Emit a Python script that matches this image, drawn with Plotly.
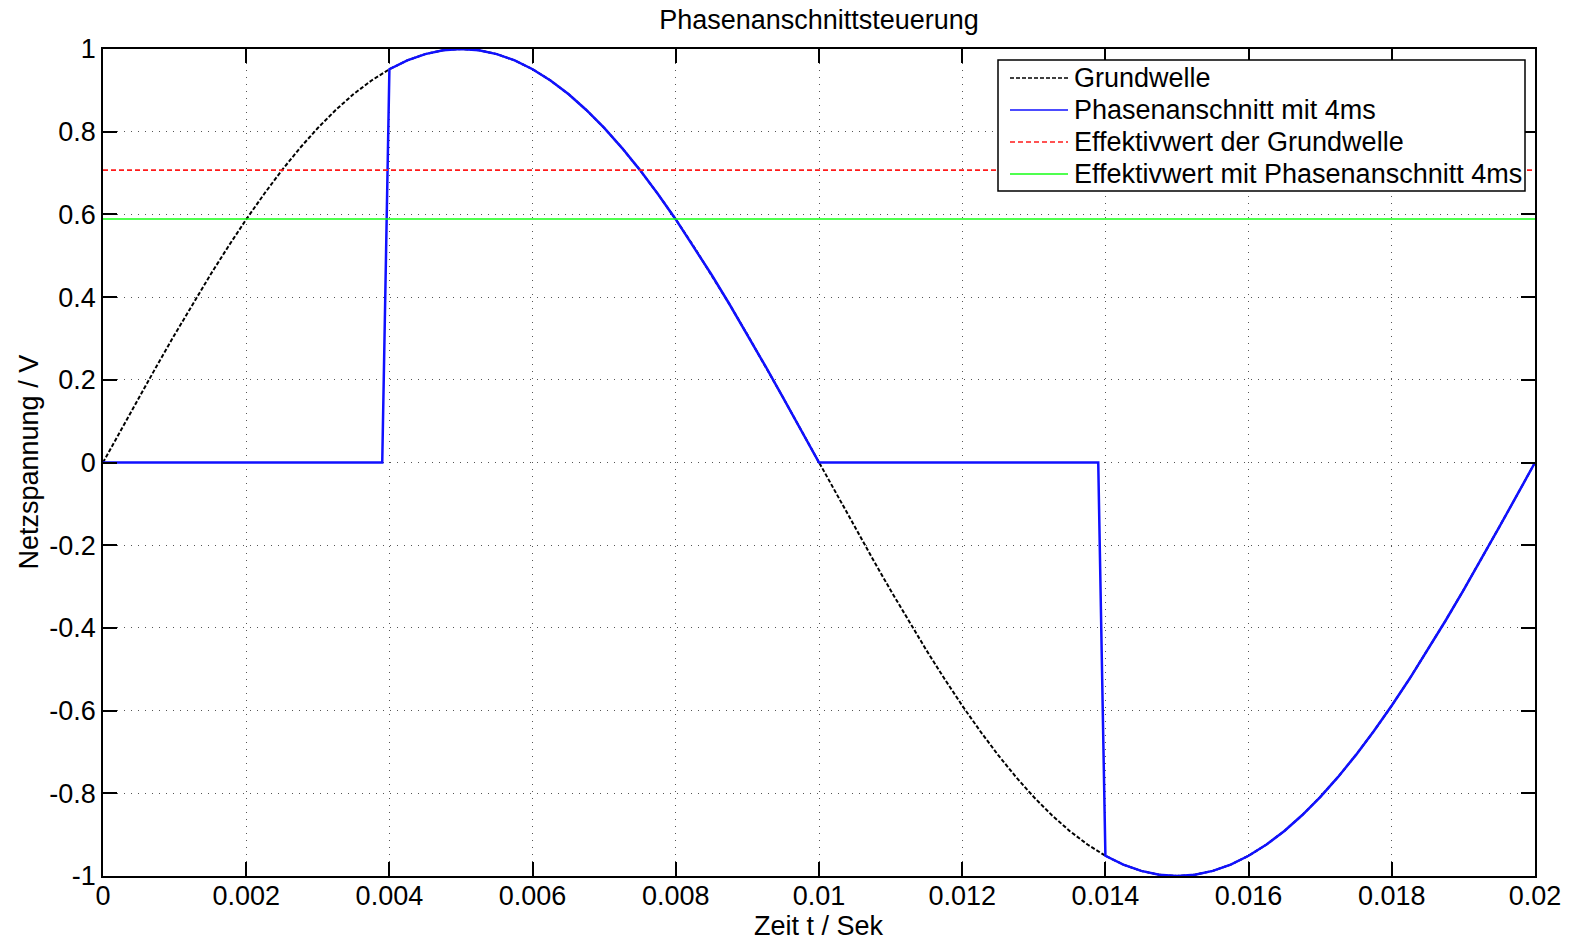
import plotly.graph_objects as go

# Time grid of one mains period (50 Hz), seconds
t = [0.0, 0.00025, 0.0005, 0.00075, 0.001, 0.00125, 0.0015, 0.00175, 0.002, 0.00225,
     0.0025, 0.00275, 0.003, 0.00325, 0.0035, 0.00375, 0.004, 0.00425, 0.0045, 0.00475,
     0.005, 0.00525, 0.0055, 0.00575, 0.006, 0.00625, 0.0065, 0.00675, 0.007, 0.00725,
     0.0075, 0.00775, 0.008, 0.00825, 0.0085, 0.00875, 0.009, 0.00925, 0.0095, 0.00975,
     0.01, 0.01025, 0.0105, 0.01075, 0.011, 0.01125, 0.0115, 0.01175, 0.012, 0.01225,
     0.0125, 0.01275, 0.013, 0.01325, 0.0135, 0.01375, 0.014, 0.01425, 0.0145, 0.01475,
     0.015, 0.01525, 0.0155, 0.01575, 0.016, 0.01625, 0.0165, 0.01675, 0.017, 0.01725,
     0.0175, 0.01775, 0.018, 0.01825, 0.0185, 0.01875, 0.019, 0.01925, 0.0195, 0.01975,
     0.02]

# Fundamental wave (normalised mains voltage)
grundwelle = [0.0, 0.0785, 0.1564, 0.2334, 0.3090, 0.3827, 0.4540, 0.5225, 0.5878, 0.6494,
              0.7071, 0.7604, 0.8090, 0.8526, 0.8910, 0.9239, 0.9511, 0.9724, 0.9877, 0.9969,
              1.0, 0.9969, 0.9877, 0.9724, 0.9511, 0.9239, 0.8910, 0.8526, 0.8090, 0.7604,
              0.7071, 0.6494, 0.5878, 0.5225, 0.4540, 0.3827, 0.3090, 0.2334, 0.1564, 0.0785,
              0.0, -0.0785, -0.1564, -0.2334, -0.3090, -0.3827, -0.4540, -0.5225, -0.5878, -0.6494,
              -0.7071, -0.7604, -0.8090, -0.8526, -0.8910, -0.9239, -0.9511, -0.9724, -0.9877, -0.9969,
              -1.0, -0.9969, -0.9877, -0.9724, -0.9511, -0.9239, -0.8910, -0.8526, -0.8090, -0.7604,
              -0.7071, -0.6494, -0.5878, -0.5225, -0.4540, -0.3827, -0.3090, -0.2334, -0.1564, -0.0785,
              0.0]

# Phase-angle controlled voltage, firing delay 4 ms per half wave
t_phase = [0.0, 0.0039,
           0.004, 0.00425, 0.0045, 0.00475, 0.005, 0.00525, 0.0055, 0.00575, 0.006, 0.00625,
           0.0065, 0.00675, 0.007, 0.00725, 0.0075, 0.00775, 0.008, 0.00825, 0.0085, 0.00875,
           0.009, 0.00925, 0.0095, 0.00975, 0.01,
           0.0139,
           0.014, 0.01425, 0.0145, 0.01475, 0.015, 0.01525, 0.0155, 0.01575, 0.016, 0.01625,
           0.0165, 0.01675, 0.017, 0.01725, 0.0175, 0.01775, 0.018, 0.01825, 0.0185, 0.01875,
           0.019, 0.01925, 0.0195, 0.01975, 0.02]
u_phase = [0.0, 0.0,
           0.9511, 0.9724, 0.9877, 0.9969, 1.0, 0.9969, 0.9877, 0.9724, 0.9511, 0.9239,
           0.8910, 0.8526, 0.8090, 0.7604, 0.7071, 0.6494, 0.5878, 0.5225, 0.4540, 0.3827,
           0.3090, 0.2334, 0.1564, 0.0785, 0.0,
           0.0,
           -0.9511, -0.9724, -0.9877, -0.9969, -1.0, -0.9969, -0.9877, -0.9724, -0.9511, -0.9239,
           -0.8910, -0.8526, -0.8090, -0.7604, -0.7071, -0.6494, -0.5878, -0.5225, -0.4540, -0.3827,
           -0.3090, -0.2334, -0.1564, -0.0785, 0.0]

# RMS values
eff_grund = 0.7071
eff_phase = 0.589

x_ticks = [0, 0.002, 0.004, 0.006, 0.008, 0.01, 0.012, 0.014, 0.016, 0.018, 0.02]
x_tick_text = ["0", "0.002", "0.004", "0.006", "0.008", "0.01", "0.012", "0.014", "0.016", "0.018", "0.02"]
y_ticks = [-1, -0.8, -0.6, -0.4, -0.2, 0, 0.2, 0.4, 0.6, 0.8, 1]
y_tick_text = ["-1", "-0.8", "-0.6", "-0.4", "-0.2", "0", "0.2", "0.4", "0.6", "0.8", "1"]

legend_labels = ["Grundwelle", "Phasenanschnitt mit 4ms",
                 "Effektivwert der Grundwelle", "Effektivwert mit Phasenanschnitt 4ms"]

FONT = "Liberation Sans, Arial, sans-serif"
FS = 27

# Figure geometry (pixels)
WIDTH, HEIGHT = 1572, 943
L, R, T, B = 103, 37, 49, 67
PW, PH = WIDTH - L - R, HEIGHT - T - B


def px_x(px):
    return (px - L) / PW


def px_y(py):
    return (HEIGHT - B - py) / PH


styles = [
    dict(color="black", width=2, dash="4px,2px"),
    dict(color="#1010ff", width=2.5, dash="solid"),
    dict(color="#ff1a1a", width=1.6, dash="5px,3px"),
    dict(color="#14ff14", width=1.6, dash="solid"),
]

fig = go.Figure()
fig.add_trace(go.Scatter(x=t, y=grundwelle, mode="lines", line=styles[0],
                         name=legend_labels[0], showlegend=False))
fig.add_trace(go.Scatter(x=t_phase, y=u_phase, mode="lines", line=styles[1],
                         name=legend_labels[1], showlegend=False))
fig.add_trace(go.Scatter(x=[x_ticks[0], x_ticks[-1]], y=[eff_grund, eff_grund], mode="lines",
                         line=styles[2], name=legend_labels[2], showlegend=False))
fig.add_trace(go.Scatter(x=[x_ticks[0], x_ticks[-1]], y=[eff_phase, eff_phase], mode="lines",
                         line=styles[3], name=legend_labels[3], showlegend=False))

# Legend box drawn in plot-area coordinates
shapes = [dict(type="rect", xref="paper", yref="paper",
               x0=px_x(998), x1=px_x(1525), y0=px_y(191), y1=px_y(60),
               line=dict(color="black", width=1.5), fillcolor="white", layer="above")]
annotations = []
row_y = [78, 110, 142, 174]
for lbl, st, ry in zip(legend_labels, styles, row_y):
    shapes.append(dict(type="line", xref="paper", yref="paper",
                       x0=px_x(1010), x1=px_x(1068), y0=px_y(ry), y1=px_y(ry),
                       line=dict(color=st["color"], width=min(st["width"], 1.6), dash=st["dash"]),
                       layer="above"))
    annotations.append(dict(text=lbl, xref="paper", yref="paper", x=px_x(1072), y=px_y(ry),
                            xanchor="left", yanchor="middle", showarrow=False,
                            font=dict(family=FONT, size=FS, color="black")))

# Axis titles placed as annotations for exact positioning
annotations.append(dict(text="Zeit t / Sek", xref="paper", yref="paper",
                        x=0.5, y=px_y(926), xanchor="center", yanchor="middle",
                        showarrow=False, font=dict(family=FONT, size=FS, color="black")))
annotations.append(dict(text="Netzspannung / V", xref="paper", yref="paper",
                        x=px_x(28), y=0.5, xanchor="center", yanchor="middle", textangle=-90,
                        showarrow=False, font=dict(family=FONT, size=FS, color="black")))

axis_common = dict(
    showline=True, linecolor="black", linewidth=1.5, mirror="ticks",
    ticks="inside", ticklen=14, tickwidth=1.5, tickcolor="black",
    showgrid=True, gridcolor="#555555", gridwidth=1, griddash="1px,6px",
    zeroline=False, automargin=False,
    tickfont=dict(family=FONT, size=FS, color="black"),
)

fig.update_layout(
    width=WIDTH, height=HEIGHT,
    margin=dict(l=L, r=R, t=T, b=B),
    paper_bgcolor="white", plot_bgcolor="white",
    font=dict(family=FONT, size=FS, color="black"),
    title=dict(text="Phasenanschnittsteuerung", x=(L + PW / 2) / WIDTH, xanchor="center",
               y=1 - 20 / HEIGHT, yanchor="middle", yref="container",
               font=dict(family=FONT, size=FS, color="black")),
    xaxis=dict(axis_common, range=[0, 0.02], tickvals=x_ticks, ticktext=x_tick_text,
               ticklabelstandoff=-5),
    yaxis=dict(axis_common, range=[-1, 1], tickvals=y_ticks, ticktext=y_tick_text),
    shapes=shapes,
    annotations=annotations,
    showlegend=False,
)

fig.write_html("out.html")
